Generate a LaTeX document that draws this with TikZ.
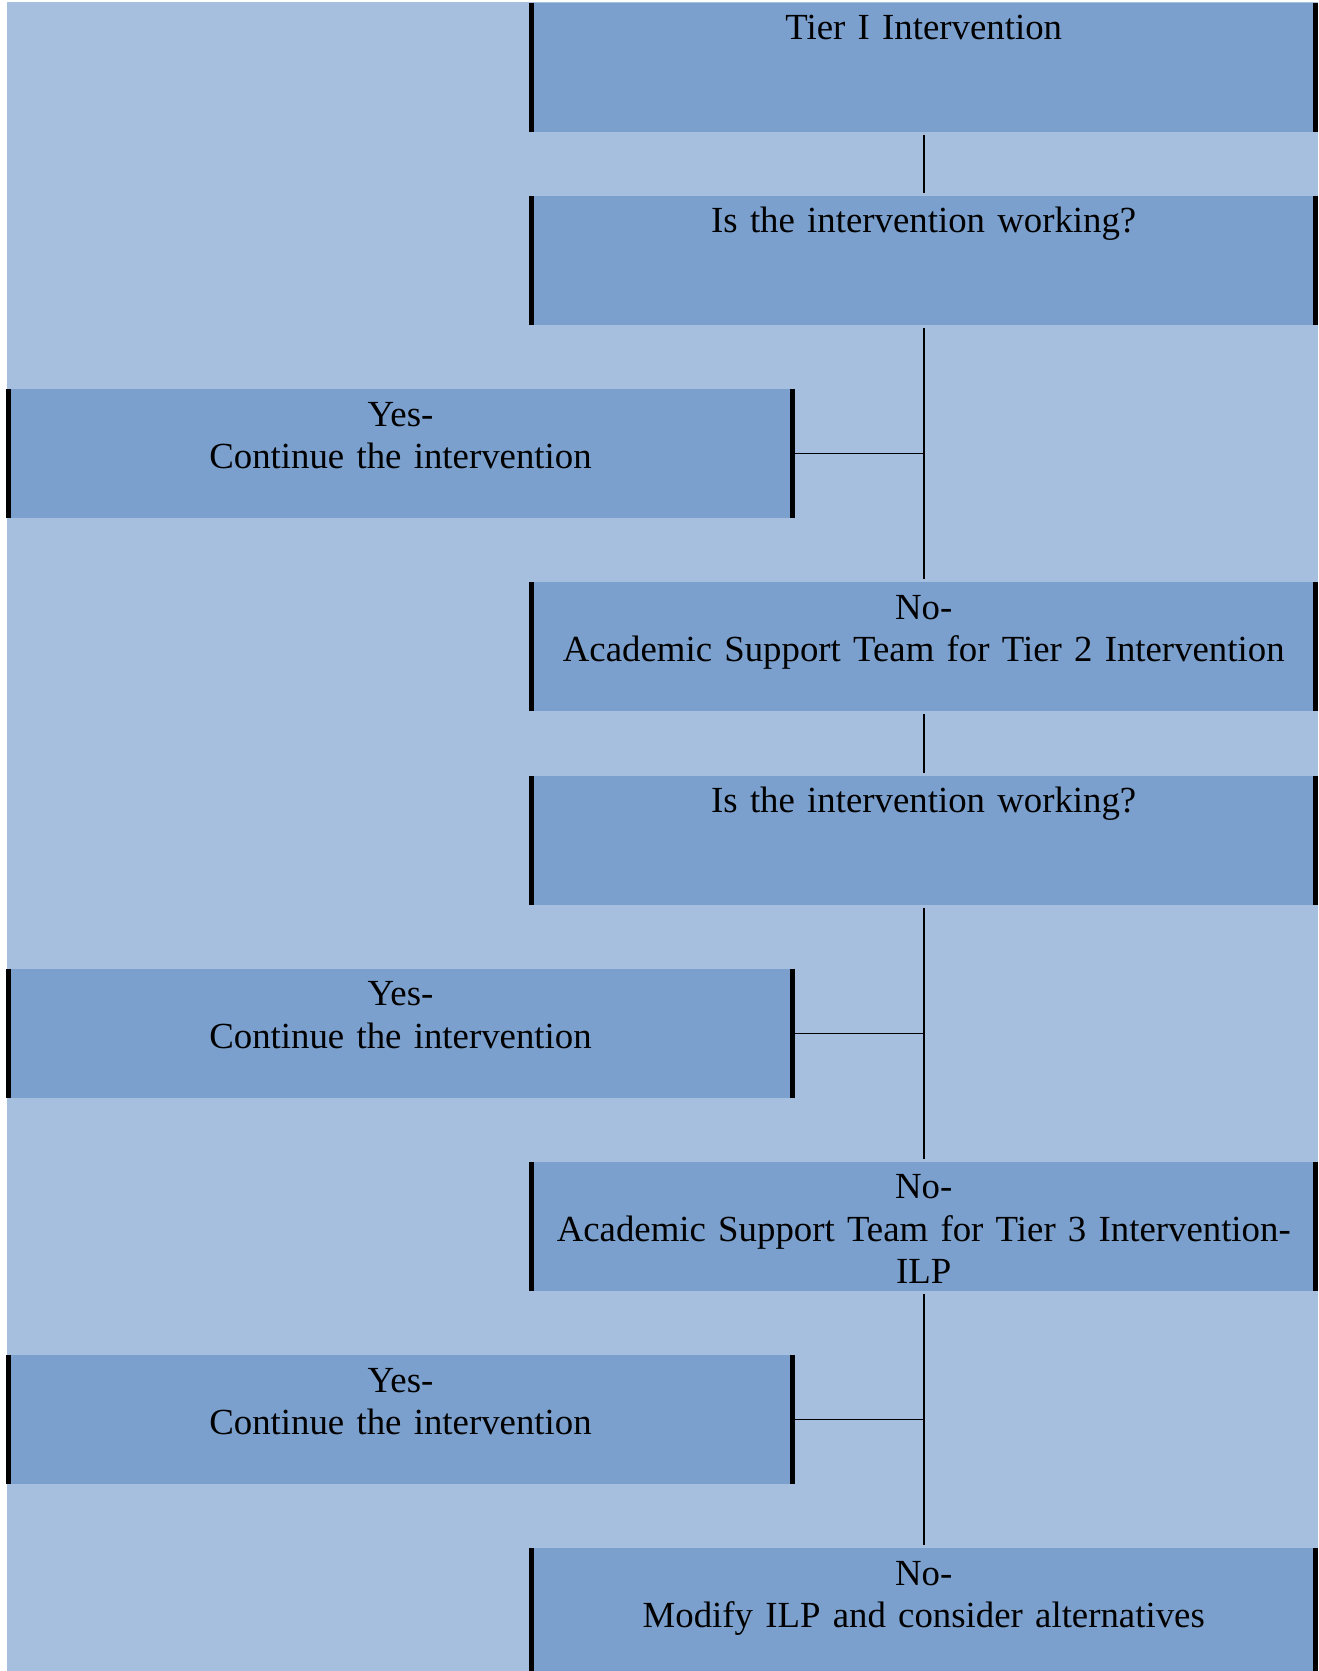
\documentclass[tikz,border=0pt]{standalone}
\usepackage{fontspec}
\setmainfont{Liberation Serif}
\usetikzlibrary{positioning}

\definecolor{bgblue}{RGB}{167,191,222}
\definecolor{boxblue}{RGB}{123,160,205}

\tikzset{
  tierbox/.style={rectangle, fill=boxblue, outer sep=0pt, inner xsep=6.1pt, inner ysep=3.65pt,
    text width=380pt, align=center, text height=14.8pt, text depth=42.4pt,
    font=\fontsize{18.4}{21.2}\selectfont},
  sideline/.style={line width=2.5pt},
  link/.style={line width=0.75pt, shorten <=1.5pt, shorten >=1.5pt},
  branch/.style={line width=0.65pt}
}

\begin{document}
\begin{tikzpicture}[x=0.5pt, y=-0.5pt]
\useasboundingbox (0,0) rectangle (1318,1671);
\clip (0,0) rectangle (1318,1671);
\fill[bgblue] (6.5,2) rectangle (1318,1671);

\node[tierbox] (tier1) at (923.75,67.2) {Tier I Intervention};
\node[tierbox, below=32.1pt of tier1] (work1) {Is the intervention working?};
\node[tierbox, below=128.7pt of work1] (no1) {No-\\Academic Support Team for Tier 2 Intervention};
\node[tierbox, below=32.1pt of no1] (work2) {Is the intervention working?};
\node[tierbox, below=128.7pt of work2] (no2) {No-\\Academic Support Team for Tier 3 Intervention-\\ILP};
\node[tierbox, below=128.7pt of no2] (no3) {No-\\Modify ILP and consider alternatives};

\node[tierbox] (yes1) at (400.5,453.6) {Yes-\\Continue the intervention};
\node[tierbox] (yes2) at (400.5,1033.2) {Yes-\\Continue the intervention};
\node[tierbox] (yes3) at (400.5,1419.6) {Yes-\\Continue the intervention};

\foreach \n in {tier1,work1,yes1,no1,work2,yes2,no2,yes3,no3}
  \draw[sideline] (\n.north west) -- (\n.south west) (\n.north east) -- (\n.south east);

\draw[link] (tier1) -- (work1);
\draw[link] (work1) -- (no1);
\draw[link] (no1) -- (work2);
\draw[link] (work2) -- (no2);
\draw[link] (no2) -- (no3);

\draw[branch] (yes1) -- (yes1 -| work1);
\draw[branch] (yes2) -- (yes2 -| work2);
\draw[branch] (yes3) -- (yes3 -| no2);

\end{tikzpicture}
\end{document}
